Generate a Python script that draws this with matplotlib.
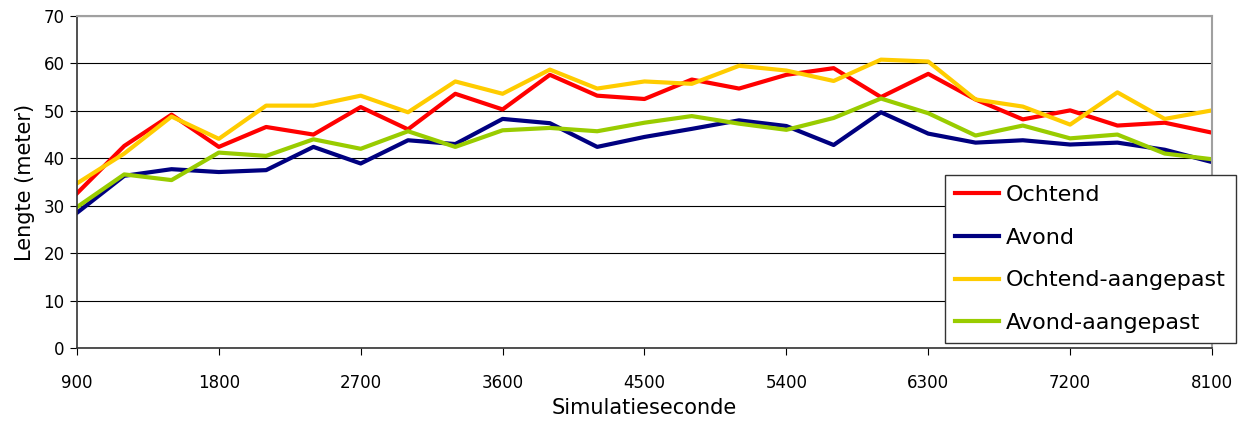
# Lengte per simulatieseconde voor ochtend/avond scenario's

import matplotlib.pyplot as plt

seconden = list(range(900, 8101, 300))

ochtend = [32.6, 42.6, 49.2, 42.4, 46.6, 45.0, 50.8, 46.1, 53.6, 50.3, 57.6, 53.2, 52.5,
           56.6, 54.7, 57.6, 59.0, 52.9, 57.8, 52.4, 48.2, 50.1, 46.9, 47.5, 45.4]
avond = [28.5, 36.3, 37.7, 37.1, 37.5, 42.4, 38.9, 43.8, 43.0, 48.3, 47.4, 42.4, 44.5,
         46.2, 48.0, 46.8, 42.8, 49.7, 45.2, 43.3, 43.8, 42.9, 43.3, 41.8, 39.2]
ochtend_aangepast = [34.7, 41.0, 48.8, 44.1, 51.1, 51.1, 53.2, 49.7, 56.2, 53.6, 58.7, 54.7, 56.2,
                     55.7, 59.5, 58.5, 56.3, 60.8, 60.4, 52.4, 50.9, 47.1, 53.9, 48.3, 50.1]
avond_aangepast = [29.7, 36.6, 35.4, 41.2, 40.5, 44.0, 42.0, 45.7, 42.4, 45.9, 46.4, 45.7, 47.5,
                   48.9, 47.3, 46.0, 48.5, 52.6, 49.5, 44.8, 46.9, 44.2, 45.0, 41.0, 39.8]

xticks = list(range(900, 8101, 900))
yticks = list(range(0, 71, 10))

fig = plt.figure(figsize=(12.45, 4.23), dpi=100)
ax = fig.add_axes([0.0618, 0.1773, 0.9117, 0.7849])

lw = 3.0
ax.plot(seconden, ochtend, color='#ff0000', lw=lw, label='Ochtend')
ax.plot(seconden, avond, color='#000080', lw=lw, label='Avond')
ax.plot(seconden, ochtend_aangepast, color='#ffcc00', lw=lw, label='Ochtend-aangepast')
ax.plot(seconden, avond_aangepast, color='#99cc00', lw=lw, label='Avond-aangepast')

ax.set_xlim(900, 8100)
ax.set_ylim(0, 70)
ax.set_xticks(xticks)
ax.set_yticks(yticks)
ax.tick_params(axis='x', labelsize=12, length=5, pad=14)
ax.tick_params(axis='y', labelsize=12, length=5, pad=4)
ax.yaxis.grid(True, color='black', lw=0.8)
ax.set_axisbelow(True)

for s in ['top', 'right']:
    ax.spines[s].set_color('#a0a0a0')
    ax.spines[s].set_linewidth(1.5)
for s in ['left', 'bottom']:
    ax.spines[s].set_color('#333333')
    ax.spines[s].set_linewidth(1.2)

ax.set_xlabel('Simulatieseconde', fontsize=15, labelpad=4)
ax.set_ylabel('Lengte (meter)', fontsize=15, labelpad=6)

leg = ax.legend(loc='lower left', bbox_to_anchor=(0.759, 0.189), bbox_transform=fig.transFigure,
                prop={'family': 'DejaVu Sans', 'size': 16}, frameon=True, fancybox=False,
                handlelength=2.0, labelspacing=1.02, borderpad=0.45, handletextpad=0.3,
                borderaxespad=0)
leg.get_frame().set_edgecolor('#333333')
leg.get_frame().set_linewidth(1.0)
leg.get_frame().set_alpha(1.0)

plt.savefig('out.png', dpi=100)
